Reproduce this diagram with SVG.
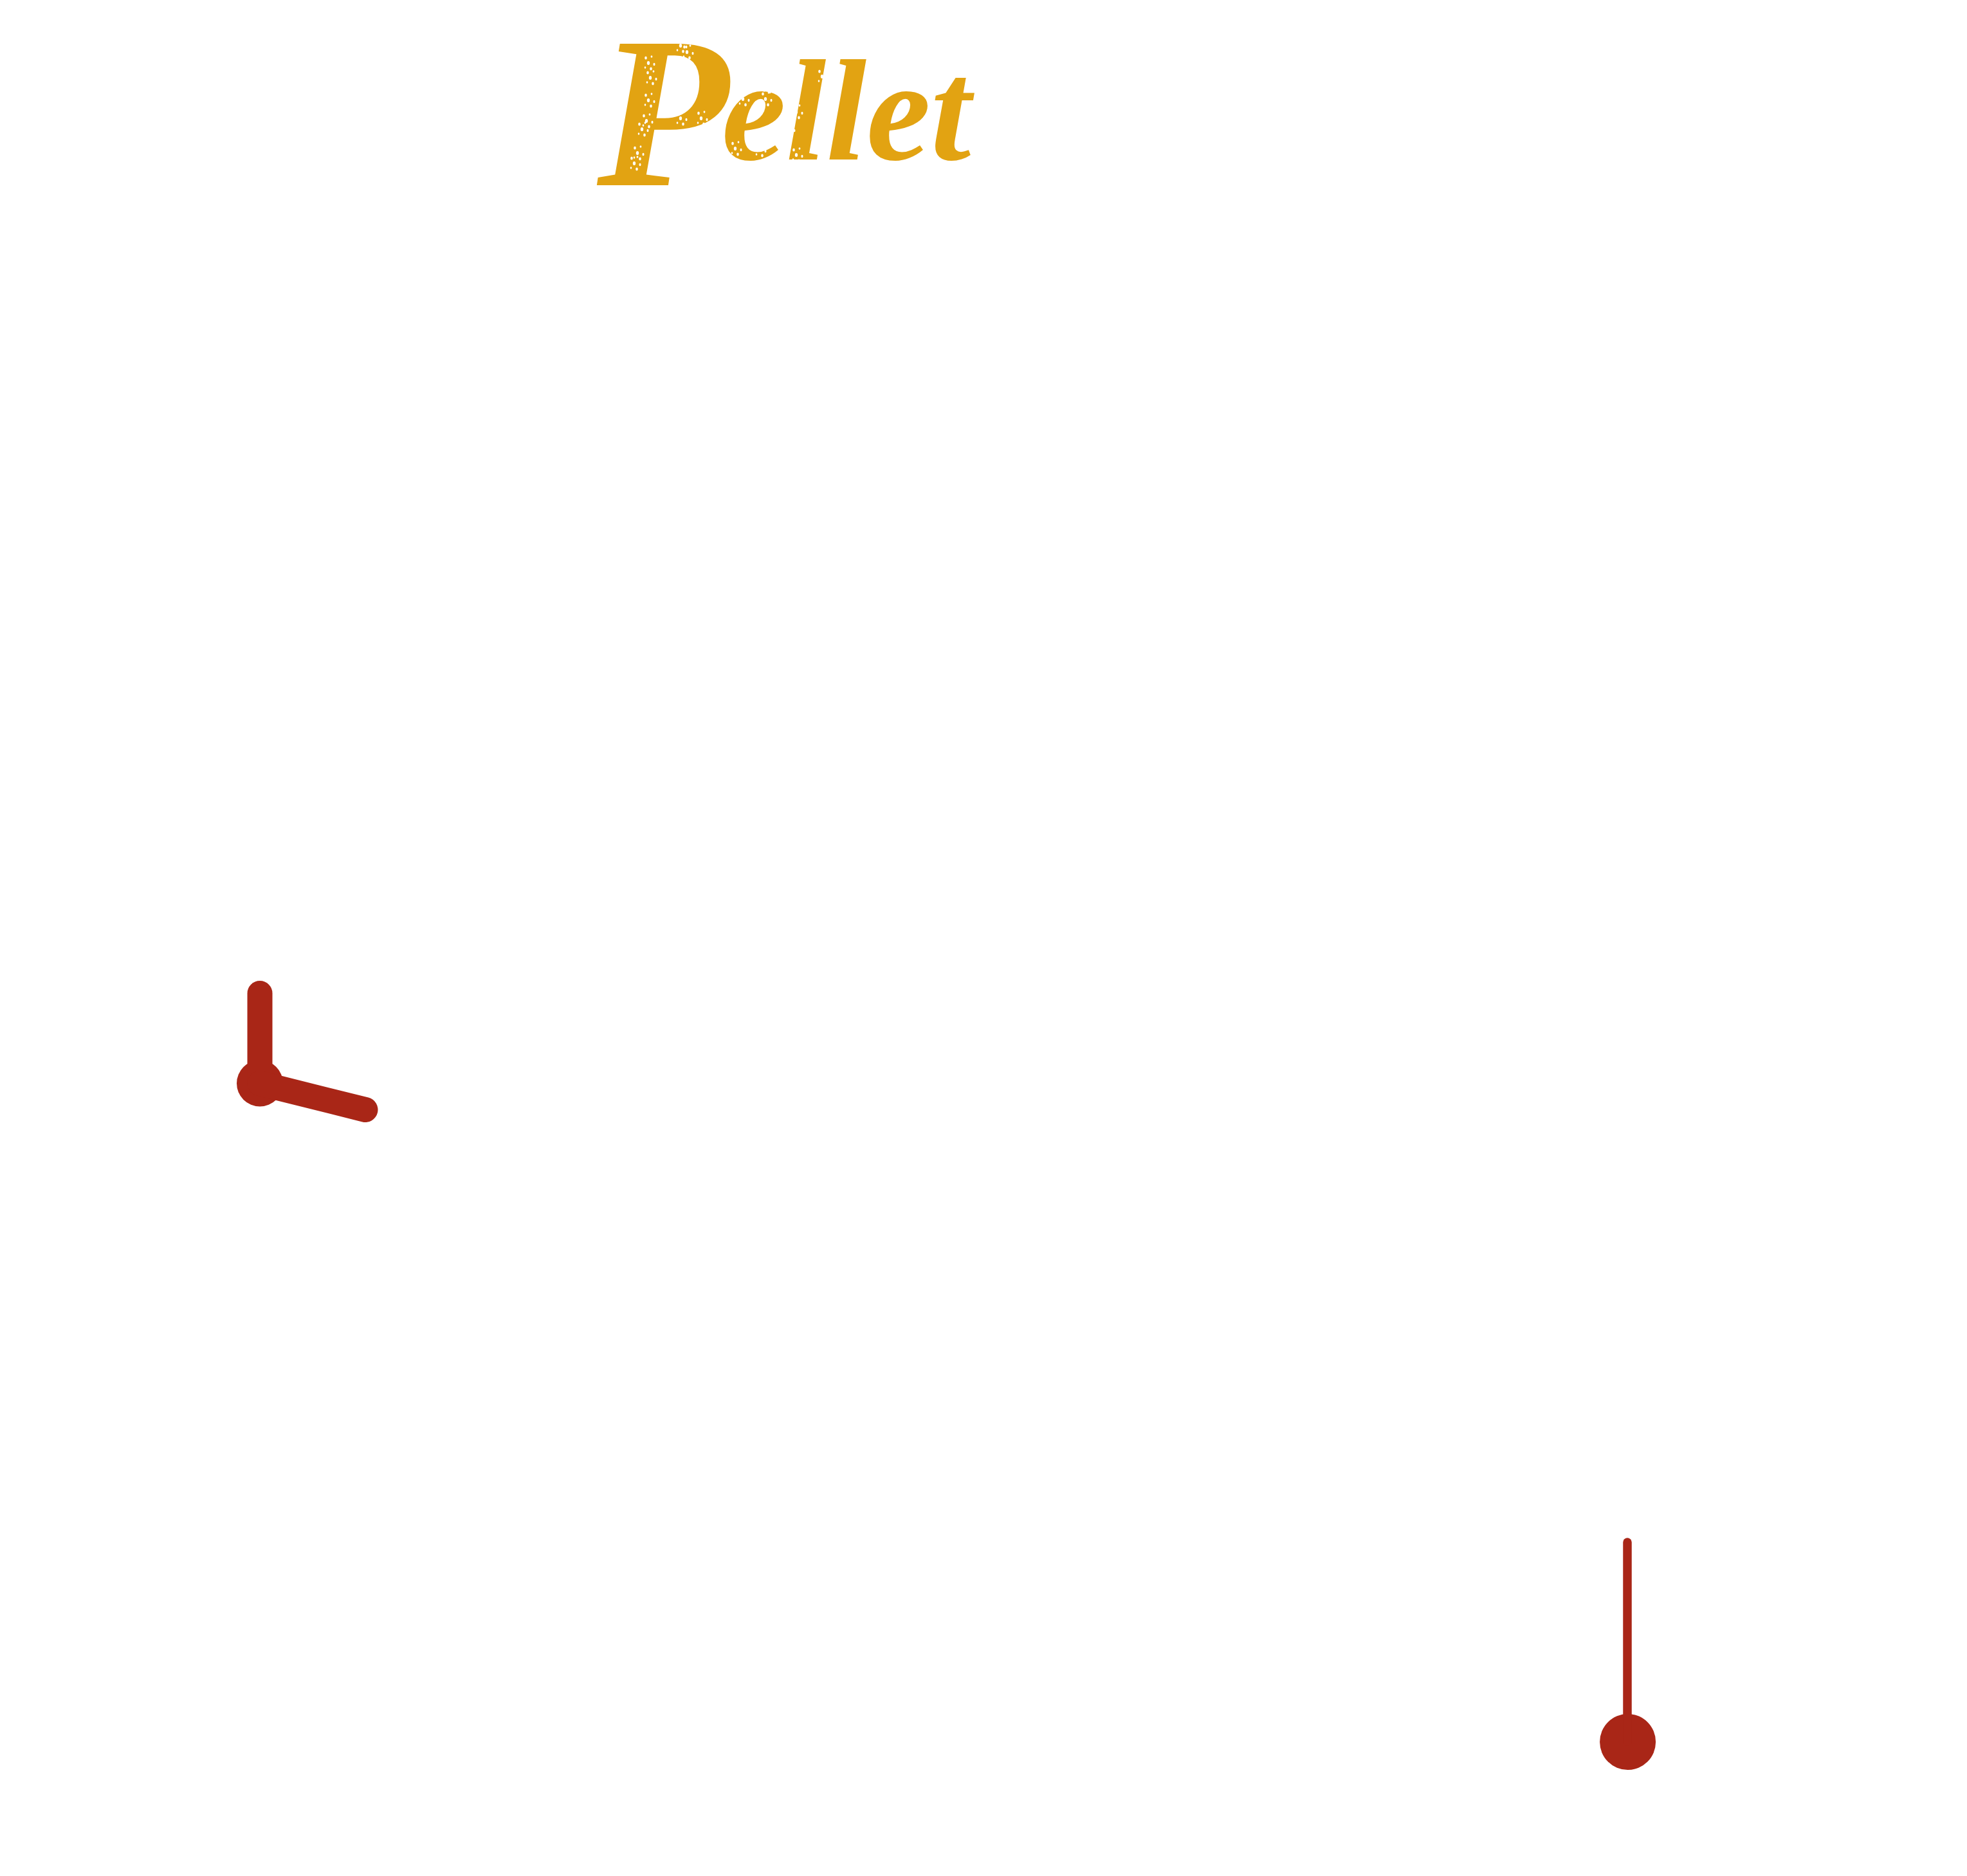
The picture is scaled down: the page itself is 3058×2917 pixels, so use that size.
<svg xmlns="http://www.w3.org/2000/svg" width="3058" height="2917" viewBox="0 0 3058 2917">
  <defs>
    <g id="fleck">
      <ellipse cx="-6" cy="-7" rx="1.8" ry="2.6"/>
      <ellipse cx="3" cy="-9" rx="1.4" ry="1.8"/>
      <ellipse cx="-2" cy="1" rx="2.2" ry="3"/>
      <ellipse cx="7" cy="3" rx="1.5" ry="2.2"/>
      <ellipse cx="-7" cy="8" rx="1.3" ry="1.8"/>
      <ellipse cx="2" cy="10" rx="1.8" ry="2.4"/>
    </g>
  </defs>
  <style>
    .hand { stroke: #a92617; stroke-linecap: round; fill: none; }
    .hub { fill: #a92617; }
    .title { font-family: "Liberation Serif", "DejaVu Serif", serif; font-style: italic; font-weight: 700; font-size: 225px; fill: #e2a312; }
    .big { font-size: 336px; }
    #flecks use { fill: #ffffff; }
  </style>
  <rect width="3058" height="2917" fill="#ffffff"/>
  <g id="title">
    <text class="title" x="928" y="288"><tspan class="big">P</tspan><tspan x="1122" y="248">ellet</tspan></text>
    <g id="flecks">
      <use href="#fleck" x="943" y="123"/><use href="#fleck" x="937" y="163"/>
      <use href="#fleck" x="1010" y="97"/><use href="#fleck" x="1013" y="120"/>
      <use href="#fleck" x="1010" y="155"/><use href="#fleck" x="1007" y="187"/>
      <use href="#fleck" x="1000" y="200"/><use href="#fleck" x="993" y="237"/>
      <use href="#fleck" x="988" y="253"/><use href="#fleck" x="1060" y="70"/>
      <use href="#fleck" x="1070" y="80"/><use href="#fleck" x="1075" y="120"/>
      <use href="#fleck" x="1073" y="147"/><use href="#fleck" x="1060" y="183"/>
      <use href="#fleck" x="1092" y="183"/><use href="#fleck" x="1090" y="207"/>
      <use href="#fleck" x="1107" y="240"/><use href="#fleck" x="1160" y="133"/>
      <use href="#fleck" x="1157" y="153"/><use href="#fleck" x="1145" y="230"/>
      <use href="#fleck" x="1195" y="133"/><use href="#fleck" x="1192" y="153"/>
      <use href="#fleck" x="1183" y="232"/><use href="#fleck" x="1240" y="173"/>
      <use href="#fleck" x="1228" y="200"/><use href="#fleck" x="1240" y="240"/>
      <use href="#fleck" x="1280" y="118"/><use href="#fleck" x="1297" y="133"/>
      <use href="#fleck" x="1293" y="153"/><use href="#fleck" x="1280" y="227"/>
      <use href="#fleck" x="1362" y="118"/>
    </g>
  </g>
  <g id="clock-left">
    <circle class="hub" cx="404" cy="1684.5" r="36"/>
    <line class="hand" x1="404" y1="1684.5" x2="404" y2="1544.5" stroke-width="39"/>
    <line class="hand" x1="404" y1="1684.5" x2="568" y2="1725.5" stroke-width="39"/>
  </g>
  <g id="clock-right">
    <circle class="hub" cx="2530.6" cy="2708.5" r="43.5"/>
    <line class="hand" x1="2530" y1="2708" x2="2530" y2="2398" stroke-width="13.5"/>
  </g>
</svg>
